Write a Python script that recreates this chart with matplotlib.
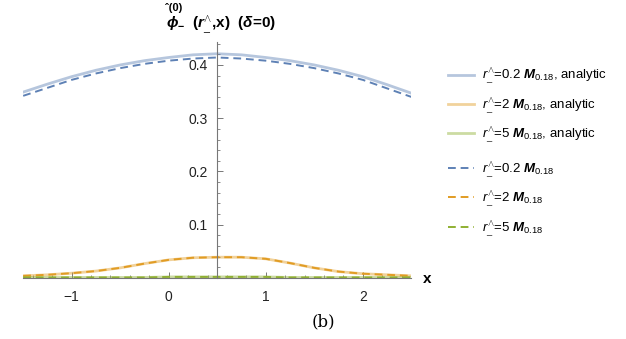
import matplotlib
matplotlib.use('Agg')
import matplotlib.pyplot as plt
from matplotlib.ticker import MultipleLocator, FixedLocator

plt.rcParams['font.family'] = ['Liberation Sans', 'DejaVu Sans']
plt.rcParams['mathtext.fontset'] = 'custom'
plt.rcParams['mathtext.rm'] = 'Liberation Sans'
plt.rcParams['mathtext.it'] = 'Liberation Sans:italic'
plt.rcParams['mathtext.bf'] = 'Liberation Sans:bold'
plt.rcParams['mathtext.bfit'] = 'Liberation Sans:bold:italic'

# sample positions
x = [-1.5, -1.25, -1.0, -0.75, -0.5, -0.25, 0.0, 0.25, 0.5,
     0.75, 1.0, 1.25, 1.5, 1.75, 2.0, 2.25, 2.5]

# r = 0.2 M
an_02 = [0.349, 0.364, 0.378, 0.390, 0.400, 0.408, 0.414, 0.419, 0.421,
         0.419, 0.414, 0.408, 0.400, 0.390, 0.378, 0.363, 0.347]
num_02 = [0.342, 0.357, 0.372, 0.384, 0.394, 0.402, 0.408, 0.412, 0.414,
          0.412, 0.408, 0.402, 0.394, 0.384, 0.372, 0.356, 0.340]
# r = 2 M
an_2 = [0.004, 0.006, 0.009, 0.013, 0.019, 0.027, 0.034, 0.038, 0.039,
        0.039, 0.036, 0.028, 0.019, 0.012, 0.008, 0.006, 0.004]
num_2 = an_2
# r = 5 M
an_5 = [0.001, 0.001, 0.001, 0.001, 0.001, 0.001, 0.002, 0.002, 0.002,
        0.002, 0.002, 0.001, 0.001, 0.001, 0.001, 0.001, 0.001]
num_5 = an_5

r_vals = ['0.2', '2', '5']
blue, orange, green = '#5E81B5', '#E19C24', '#8FB032'

fig = plt.figure(figsize=(6.26, 3.39), dpi=100)
ax = fig.add_axes([0.037, 0.18, 0.62, 0.696])

cols = [blue, orange, green]
h1 = []
for ys, c in zip([an_02, an_2, an_5], cols):
    l, = ax.plot(x, ys, color=c, lw=2.0, alpha=0.45)
    h1.append(l)
h2 = []
for ys, c in zip([num_02, num_2, num_5], cols):
    l, = ax.plot(x, ys, color=c, lw=1.4, ls=(0, (4, 2.5)))
    h2.append(l)

ax.set_xlim(-1.5, 2.5)
ax.set_ylim(0, 0.443)
ax.spines['left'].set_position(('data', 0.5))
ax.spines['bottom'].set_position(('data', 0))
ax.spines['top'].set_visible(False)
ax.spines['right'].set_visible(False)
for s in ['left', 'bottom']:
    ax.spines[s].set_color('#777777')
    ax.spines[s].set_linewidth(0.8)
ax.xaxis.set_major_locator(FixedLocator([-1, 0, 1, 2]))
ax.xaxis.set_minor_locator(MultipleLocator(0.2))
ax.yaxis.set_major_locator(FixedLocator([0.1, 0.2, 0.3, 0.4]))
ax.yaxis.set_minor_locator(MultipleLocator(0.02))
ax.set_xticklabels(['\u22121', '0', '1', '2'])
ax.set_yticklabels(['0.1', '0.2', '0.3', '0.4'])
ax.tick_params(which='major', direction='in', length=4, color='#777777',
               labelsize=10, labelcolor='#222222', width=0.7)
ax.tick_params(which='minor', direction='in', length=2, color='#777777', width=0.6)
ax.tick_params(axis='x', pad=9)
ax.tick_params(axis='y', pad=7)
ax.patch.set_visible(False)

fig.text(0.683, 0.178, 'x', fontsize=11, fontweight='bold', va='center', ha='center')
fig.text(0.265, 0.926,
         r'$\mathbfit{\phi}_{\mathbf{-}}$  ($\mathbfit{r}^{\wedge}_{\_}$,x)  ($\mathbfit{\delta}$=0)',
         fontsize=11, fontweight='bold', va='center', ha='left')
fig.text(0.263, 0.975, '\u02c6(0)', fontsize=8, fontweight='bold', va='center', ha='left')

lab1 = [r'$\mathit{r}^{\wedge}_{\_}$=%s $\mathbfit{M}_{\mathrm{0.18}}$, analytic' % r for r in r_vals]
lab2 = [r'$\mathit{r}^{\wedge}_{\_}$=%s $\mathbfit{M}_{\mathrm{0.18}}$' % r for r in r_vals]
leg1 = fig.legend(h1, lab1, loc='upper left', bbox_to_anchor=(0.707, 0.82),
                  frameon=False, fontsize=9.5, handlelength=2.0, labelspacing=0.7,
                  handletextpad=0.6, borderaxespad=0)
leg2 = fig.legend(h2, lab2, loc='upper left', bbox_to_anchor=(0.707, 0.545),
                  frameon=False, fontsize=9.5, handlelength=2.0, labelspacing=0.7,
                  handletextpad=0.6, borderaxespad=0)

fig.text(0.516, 0.05, '(b)', fontsize=12, family='DejaVu Serif', ha='center', va='center')

plt.savefig('out.png', dpi=100)
